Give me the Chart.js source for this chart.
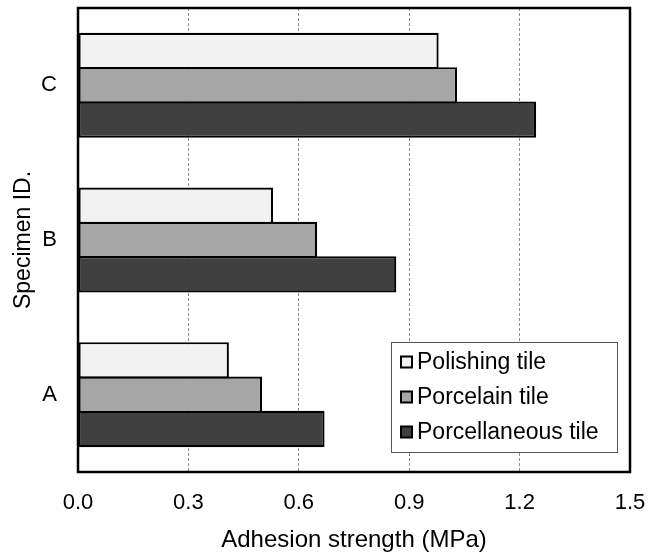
<!DOCTYPE html>
<html>
<head>
<meta charset="utf-8">
<script src="https://cdn.jsdelivr.net/npm/chart.js@4/dist/chart.umd.min.js"></script>
<style>
  html, body { margin: 0; padding: 0; background: #ffffff; }
  #wrap { width: 656px; height: 557px; position: relative; }
</style>
</head>
<body>
<div id="wrap"><canvas id="c" width="656" height="557"></canvas></div>
<script>
// ---- data ----
const categories = ['C', 'B', 'A'];
const seriesNames = ['Polishing tile', 'Porcelain tile', 'Porcellaneous tile'];
const polishing = [0.98, 0.53, 0.41];
const porcelain = [1.03, 0.65, 0.50];
const porcellaneous = [1.245, 0.865, 0.67];
const xTicks = [0.0, 0.3, 0.6, 0.9, 1.2, 1.5];
const seriesColors = ['#f2f2f2', '#a6a6a6', '#404040'];

const FONT = "'Liberation Sans', Arial, sans-serif";

const framePlugin = {
  id: 'frame',
  afterDatasetsDraw(chart) {
    const {ctx, chartArea: a} = chart;
    ctx.save();
    ctx.strokeStyle = '#000';
    ctx.lineWidth = 2.5;
    ctx.strokeRect(a.left, a.top, a.right - a.left, a.bottom - a.top);
    ctx.restore();
  }
};

const legendBoxPlugin = {
  id: 'legendBox',
  afterDraw(chart) {
    const {ctx} = chart;
    const left = 391, top = 342, right = 617, bottom = 452;
    ctx.save();
    ctx.fillStyle = '#fff';
    ctx.fillRect(left, top, right - left, bottom - top);
    ctx.strokeStyle = '#555';
    ctx.lineWidth = 1;
    ctx.strokeRect(left + 0.5, top + 0.5, right - left, bottom - top);
    ctx.font = '23px ' + FONT;
    ctx.textBaseline = 'middle';
    ctx.textAlign = 'left';
    const rowH = 35;
    chart.data.datasets.forEach((ds, i) => {
      const cy = top + 20 + i * rowH;
      ctx.fillStyle = ds.backgroundColor;
      ctx.fillRect(401, cy - 5.5, 11, 11);
      ctx.strokeStyle = '#000';
      ctx.lineWidth = 2;
      ctx.strokeRect(401, cy - 5.5, 11, 11);
      ctx.fillStyle = '#000';
      ctx.fillText(ds.label, 417, cy + 1);
    });
    ctx.restore();
  }
};

const datasets = [polishing, porcelain, porcellaneous].map((vals, i) => ({
  label: seriesNames[i],
  data: vals,
  backgroundColor: seriesColors[i],
  borderColor: '#000',
  borderWidth: 2.2,
  borderSkipped: false,
  categoryPercentage: 0.666,
  barPercentage: 1.058
}));

new Chart(document.getElementById('c'), {
  type: 'bar',
  data: { labels: categories, datasets },
  options: {
    indexAxis: 'y',
    responsive: false,
    devicePixelRatio: 1,
    animation: false,
    layout: { padding: { top: 8, right: 26, left: 0, bottom: 0 } },
    plugins: {
      legend: { display: false },
      tooltip: { enabled: false }
    },
    scales: {
      x: {
        type: 'linear',
        min: 0,
        max: 1.5,
        afterBuildTicks(scale) { scale.ticks = xTicks.map(v => ({ value: v })); },
        afterFit(scale) { scale.height = 85; scale.paddingLeft = 0; scale.paddingRight = 0; },
        grid: { color: '#8c8c8c', lineWidth: 1, drawTicks: false },
        border: { display: false, dash: [3, 2] },
        ticks: {
          color: '#000',
          padding: 18,
          font: { family: FONT, size: 22 },
          callback: v => Number(v).toFixed(1)
        },
        title: {
          display: true,
          text: 'Adhesion strength (MPa)',
          color: '#000',
          font: { family: FONT, size: 24 },
          padding: { top: 0, bottom: 2 }
        }
      },
      y: {
        type: 'category',
        afterFit(scale) { scale.width = 78; scale.paddingTop = 0; scale.paddingBottom = 0; },
        grid: { display: false, drawTicks: false },
        border: { display: false },
        ticks: {
          color: '#000',
          padding: 21,
          font: { family: FONT, size: 22 }
        },
        title: {
          display: true,
          text: 'Specimen ID.',
          color: '#000',
          font: { family: FONT, size: 23 },
          padding: { top: 10, bottom: 0 }
        }
      }
    }
  },
  plugins: [framePlugin, legendBoxPlugin]
});
</script>
</body>
</html>
